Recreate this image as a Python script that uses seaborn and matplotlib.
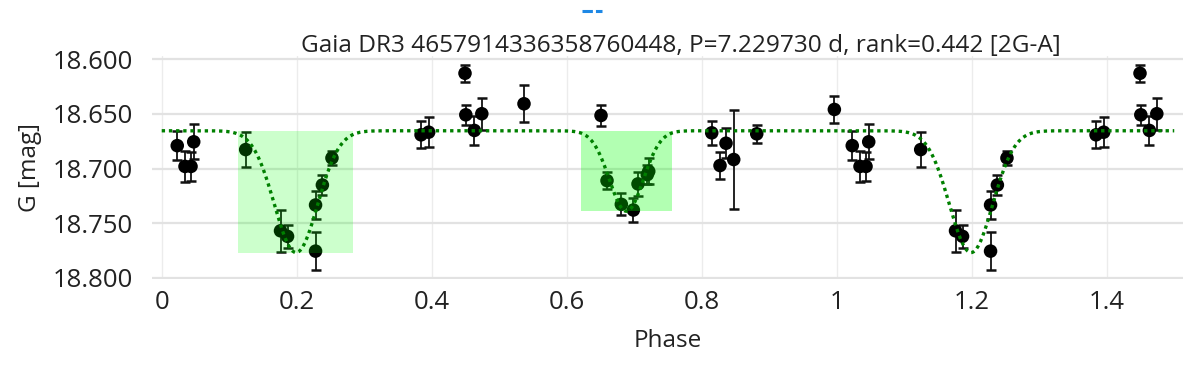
import numpy as np
import pandas as pd
import matplotlib
matplotlib.use("Agg")
import matplotlib.pyplot as plt
from matplotlib.patches import Rectangle
from matplotlib.lines import Line2D
import seaborn as sns

# ---------------- data ----------------
phase = [0.0230, 0.0345, 0.0434, 0.0474, 0.1244, 0.1760, 0.1864, 0.2279,
         0.2380, 0.2522, 0.2279, 0.3842, 0.3955, 0.4493, 0.4505, 0.4632,
         0.4742, 0.5367, 0.6508, 0.6597, 0.6809, 0.6987, 0.7056, 0.7194,
         0.7215, 0.8148, 0.8271, 0.8360, 0.8474, 0.8815, 0.9965]
mag = [18.6790, 18.6980, 18.6980, 18.6755, 18.6826, 18.7569, 18.7620, 18.7333,
       18.7150, 18.6903, 18.7755, 18.6691, 18.6667, 18.6128, 18.6508, 18.6651,
       18.6498, 18.6407, 18.6514, 18.7110, 18.7327, 18.7379, 18.7140, 18.7055,
       18.7025, 18.6673, 18.6972, 18.6768, 18.6917, 18.6682, 18.6459]
mag_err = [0.0133, 0.0142, 0.0136, 0.0160, 0.0159, 0.0190, 0.0107, 0.0125,
           0.0095, 0.0062, 0.0174, 0.0125, 0.0135, 0.0080, 0.0092, 0.0135,
           0.0147, 0.0168, 0.0099, 0.0076, 0.0101, 0.0107, 0.0110, 0.0087,
           0.0118, 0.0110, 0.0122, 0.0138, 0.0450, 0.0080, 0.0125]

# two-Gaussian eclipse model
model_base = 18.6654
ecl_center = [0.1990, 0.6884]
ecl_depth = [0.1114, 0.0736]
ecl_sigma = [0.0320, 0.0252]
ecl_box_x0 = [0.1130, 0.6212]
ecl_box_x1 = [0.2840, 0.7556]
ecl_box_alpha = [0.20, 0.30]

x_ticks = [0, 0.2, 0.4, 0.6, 0.8, 1.0, 1.2, 1.4]
x_tick_labels = ["0", "0.2", "0.4", "0.6", "0.8", "1", "1.2", "1.4"]
y_ticks = [18.60, 18.65, 18.70, 18.75, 18.80]
y_tick_labels = ["18.600", "18.650", "18.700", "18.750", "18.800"]
title = "Gaia DR3 4657914336358760448, P=7.229730 d, rank=0.442 [2G-A]"
x_label = "Phase"
y_label = "G [mag]"

X_MAX = 1.513
X_MIN = -0.0144

# ---------------- build frames ----------------
base = pd.DataFrame({"phase": phase, "mag": mag, "err": mag_err})
shifted = base.assign(phase=base["phase"] + 1.0)
shifted = shifted[shifted["phase"] <= 1.5]
df = pd.concat([base, shifted], ignore_index=True)

grid = np.linspace(0.0, 1.5, 1501)
model = np.full_like(grid, model_base)
for c, d, s in zip(ecl_center, ecl_depth, ecl_sigma):
    for k in (-1, 0, 1):
        model += d * np.exp(-0.5 * ((grid - c - k) / s) ** 2)
mdf = pd.DataFrame({"phase": grid, "mag": model})

# ---------------- figure ----------------
sns.set_theme(style="white")
plt.rcParams["font.family"] = ["Open Sans", "DejaVu Sans"]
TXT = "#222222"

fig = plt.figure(figsize=(11.96, 3.70), dpi=100)
ax = fig.add_axes([152 / 1196, 1 - 279 / 370, (1183 - 152) / 1196, (279 - 56) / 370])

ax.errorbar(df["phase"], df["mag"], yerr=df["err"], fmt="none",
            ecolor="#111111", elinewidth=1.3, capsize=3.5, capthick=1.8, zorder=2.5)
sns.scatterplot(data=df, x="phase", y="mag", ax=ax, color="black", s=95,
                edgecolor="none", linewidth=0, zorder=3, legend=False)

for x0, x1, d, a in zip(ecl_box_x0, ecl_box_x1, ecl_depth, ecl_box_alpha):
    ax.add_patch(Rectangle((x0, model_base), x1 - x0, d, facecolor=(0, 1, 0),
                           alpha=a, edgecolor="none", zorder=4))

sns.lineplot(data=mdf, x="phase", y="mag", ax=ax, color="#008000",
             linewidth=2.4, linestyle=(0, (1, 1.15)), estimator=None,
             sort=False, zorder=5, legend=False)

ax.set_xlim(X_MIN, X_MAX)
ax.set_ylim(18.801, 18.597)
ax.set_xticks(x_ticks)
ax.set_xticklabels(x_tick_labels)
ax.set_yticks(y_ticks)
ax.set_yticklabels(y_tick_labels)
ax.tick_params(axis="both", length=0, labelsize=18.5, colors=TXT)
ax.tick_params(axis="y", pad=13.5)
ax.tick_params(axis="x", pad=8)

ax.yaxis.grid(True, color="#e2e2e2", linewidth=1.6, zorder=0)
ax.xaxis.grid(True, color="#ececec", linewidth=1.0, zorder=0)
ax.set_axisbelow(True)
for sp in ax.spines.values():
    sp.set_visible(False)

ax.set_xlabel(x_label, fontsize=17.5, color=TXT)
ax.xaxis.set_label_coords(0.5, (279 - 341) / 223)
ax.xaxis.label.set_va("center")
ax.set_ylabel(y_label, fontsize=17.5, color=TXT)
ax.yaxis.set_label_coords((30 - 152) / 1031, 0.5)
ax.yaxis.label.set_va("center")

ax.set_title(title, fontsize=17.6, color=TXT, x=(681 - 152) / 1031,
             y=(279 - 52) / 223, pad=0, va="baseline")

# small dashed legend sample at the top (unnamed trace)
handle = Line2D([], [], color="#1e88e5", linewidth=2.2, linestyle=(0, (3.4, 1.0)))
fig.legend(handles=[handle], labels=[""], loc="center",
           bbox_to_anchor=(592 / 1196, 1 - 12 / 370), frameon=False,
           handlelength=1.45, handletextpad=0.0, borderpad=0.0,
           borderaxespad=0.0, fontsize=10)

fig.savefig("out.png", dpi=100)
